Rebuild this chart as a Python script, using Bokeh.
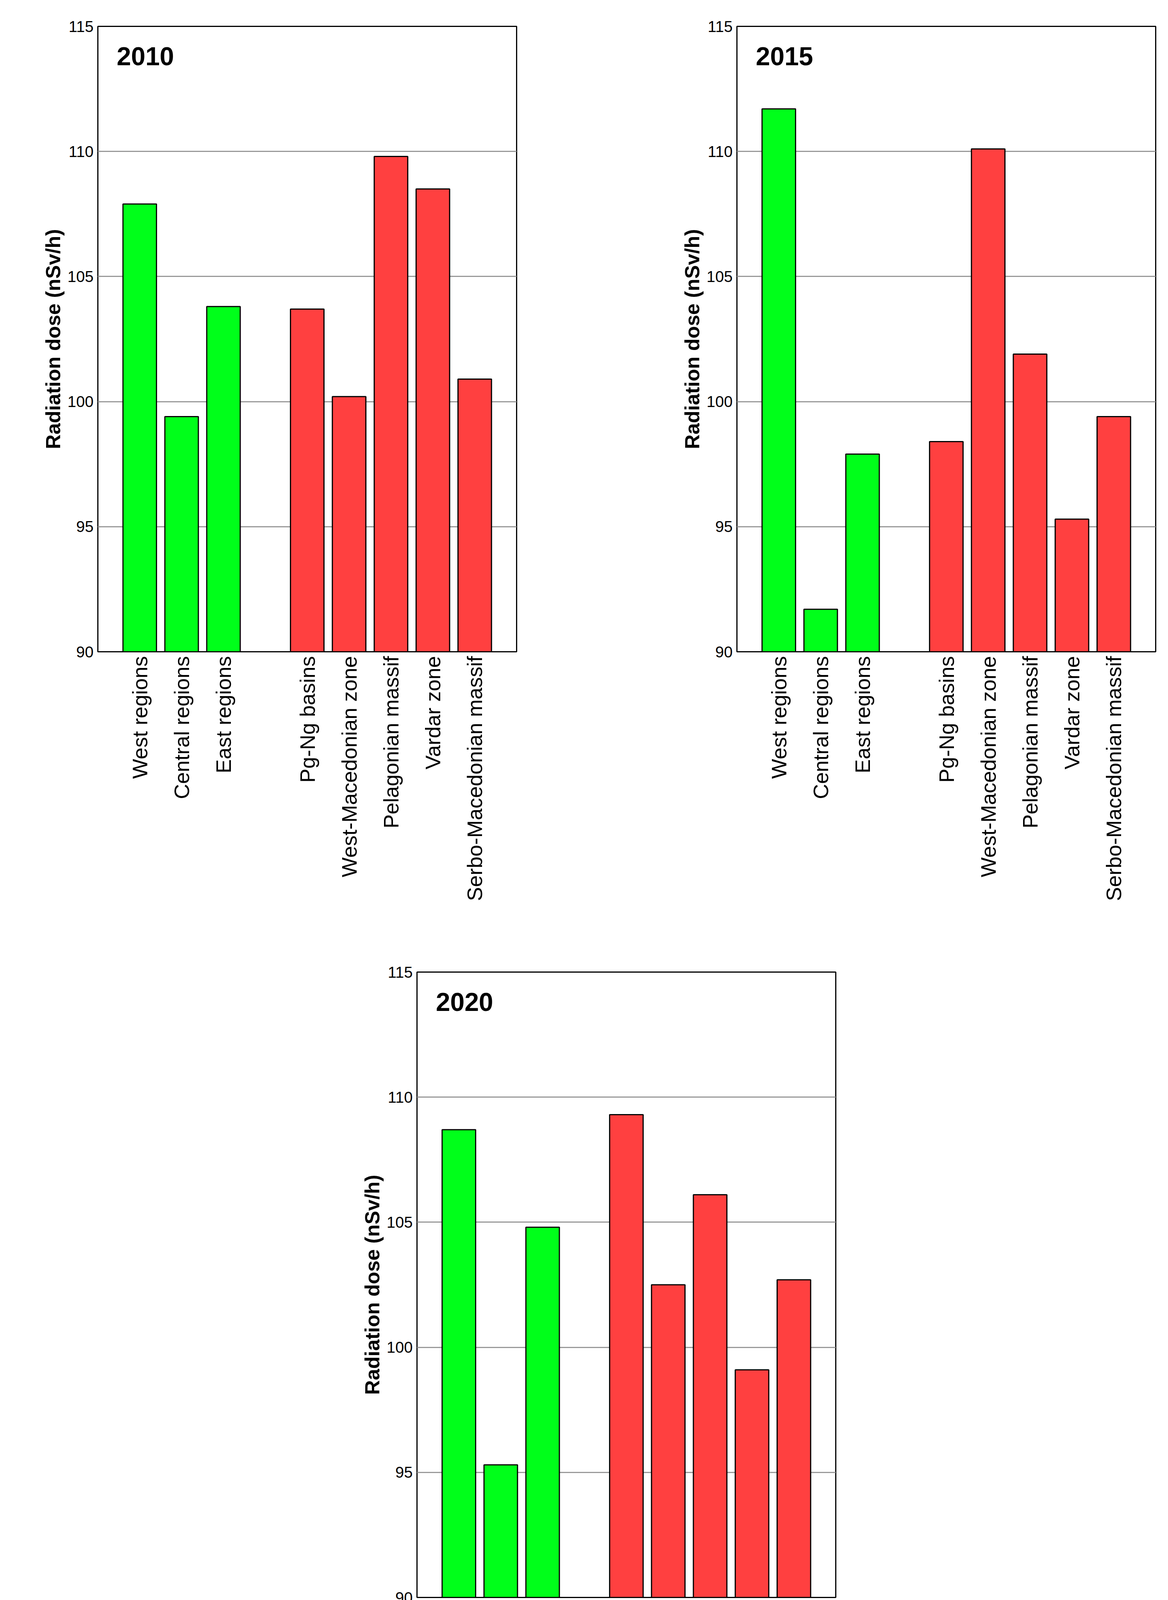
import math
from bokeh.plotting import figure
from bokeh.layouts import row, column
from bokeh.models import FixedTicker, Range1d
from bokeh.core.properties import value
from bokeh.embed import file_html
from bokeh.resources import INLINE

categories = ["West regions", "Central regions", "East regions", "Pg-Ng basins",
              "West-Macedonian zone", "Pelagonian massif", "Vardar zone", "Serbo-Macedonian massif"]
positions = [0, 1, 2, 4, 5, 6, 7, 8]
colors = ["#00ff1a"] * 3 + ["#ff4040"] * 5
years = ["2010", "2015", "2020"]
values_2010 = [107.9, 99.4, 103.8, 103.7, 100.2, 109.8, 108.5, 100.9]
values_2015 = [111.7, 91.7, 97.9, 98.4, 110.1, 101.9, 95.3, 99.4]
values_2020 = [108.7, 95.3, 104.8, 109.3, 102.5, 106.1, 99.1, 102.7]
y_ticks = [90, 95, 100, 105, 110, 115]
FONT = "Liberation Sans"

def panel(year, vals, left, top, bottom):
    p = figure(output_backend="svg", toolbar_location=None, frame_width=1072, frame_height=1601,
               min_border_left=left, min_border_right=20, min_border_top=top, min_border_bottom=bottom,
               x_range=Range1d(-1, 9), y_range=Range1d(90, 115))
    p.vbar(x=positions, top=vals, bottom=90, width=0.8, fill_color=colors, line_color="black", line_width=3)
    p.text(x=[-0.55], y=[113.8], text=[year], text_font=value(FONT), text_font_style="bold",
           text_font_size="66px", text_baseline="middle", text_align="left", text_color="black")
    p.outline_line_color = "black"
    p.outline_line_width = 3
    p.xgrid.grid_line_color = None
    p.ygrid.grid_line_color = "#999999"
    p.ygrid.grid_line_width = 3
    p.yaxis.ticker = FixedTicker(ticks=y_ticks)
    p.xaxis.ticker = FixedTicker(ticks=positions)
    p.xaxis.major_label_overrides = {pp: c for pp, c in zip(positions, categories)}
    p.xaxis.major_label_orientation = math.pi / 2
    for ax in (p.xaxis, p.yaxis):
        ax.axis_line_color = None
        ax.major_tick_line_color = None
        ax.minor_tick_line_color = None
        ax.major_label_text_font = FONT
        ax.major_label_text_color = "black"
    p.xaxis.major_label_text_font_size = "54px"
    p.yaxis.major_label_text_font_size = "40px"
    p.yaxis.axis_label = "Radiation dose (nSv/h)"
    p.yaxis.axis_label_text_font = FONT
    p.yaxis.axis_label_text_font_style = "bold"
    p.yaxis.axis_label_text_font_size = "52px"
    p.yaxis.axis_label_text_color = "black"
    return p

p1 = panel(years[0], values_2010, 250, 67, 720)
p2 = panel(years[1], values_2015, 544, 67, 720)
p3 = panel(years[2], values_2020, 1067, 100, 720)
layout = column(row(p1, p2), p3)
open("out.html", "w").write(file_html(layout, INLINE))
